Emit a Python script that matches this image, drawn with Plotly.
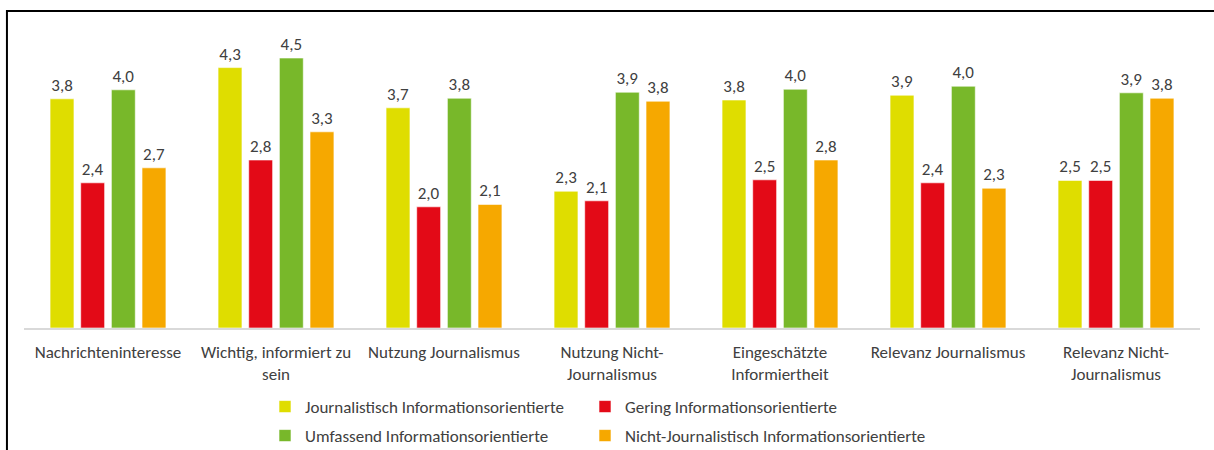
import plotly.graph_objects as go

categories = [
    "Nachrichteninteresse",
    "Wichtig, informiert zu<br>sein",
    "Nutzung Journalismus",
    "Nutzung Nicht-<br>Journalismus",
    "Eingeschätzte<br>Informiertheit",
    "Relevanz Journalismus",
    "Relevanz Nicht-<br>Journalismus",
]

journalistisch = [3.82, 4.34, 3.67, 2.28, 3.80, 3.88, 2.46]
gering = [2.42, 2.80, 2.02, 2.12, 2.47, 2.42, 2.46]
umfassend = [3.97, 4.50, 3.83, 3.93, 3.98, 4.03, 3.92]
nicht_journalistisch = [2.67, 3.27, 2.06, 3.78, 2.80, 2.33, 3.83]

series_names = [
    "Journalistisch Informationsorientierte",
    "Gering Informationsorientierte",
    "Umfassend Informationsorientierte",
    "Nicht-Journalistisch Informationsorientierte",
]
series_values = [journalistisch, gering, umfassend, nicht_journalistisch]
series_colors = ["#DFDD00", "#E30A17", "#78B82A", "#F6A800"]
legend_ids = ["legend", "legend2", "legend3", "legend4"]
# legend grid: (left x in px, row centre y in px)
legend_pos = [(265, 407), (585, 407), (265, 436), (585, 436)]

FONT = "Calibri, Carlito, Lato, sans-serif"
TXT = "#404040"
FS = 17
W, H = 1214, 450

fig = go.Figure()
for name, vals, color, leg in zip(series_names, series_values, series_colors, legend_ids):
    fig.add_trace(go.Bar(
        name=name,
        x=categories,
        y=vals,
        marker=dict(color=color, line=dict(color="rgba(255,255,255,0.6)", width=1)),
        texttemplate="%{y:.1f}",
        textposition="outside",
        textfont=dict(family=FONT, size=FS, color=TXT),
        cliponaxis=False,
        legend=leg,
    ))

legends = {}
for leg, (lx, ly) in zip(legend_ids, legend_pos):
    legends[leg] = dict(
        orientation="h",
        xref="container",
        yref="container",
        x=lx / W,
        y=1 - ly / H,
        xanchor="left",
        yanchor="middle",
        font=dict(family=FONT, size=FS, color=TXT),
        itemwidth=30,
        bgcolor="rgba(0,0,0,0)",
    )

fig.update_layout(
    width=W,
    height=H,
    margin=dict(l=24, r=14, t=28, b=122, autoexpand=False),
    paper_bgcolor="white",
    plot_bgcolor="white",
    separators=",.",
    barmode="group",
    bargap=0.27,
    bargroupgap=0.22,
    showlegend=True,
    xaxis=dict(
        showgrid=False,
        showline=True,
        linecolor="#D9D9D9",
        linewidth=1.5,
        ticks="",
        tickfont=dict(family=FONT, size=FS, color=TXT),
        tickangle=0,
        automargin=False,
        ticklabelstandoff=8,
    ),
    yaxis=dict(
        range=[0, 5],
        visible=False,
        showgrid=False,
        zeroline=False,
        automargin=False,
    ),
    font=dict(family=FONT, color=TXT),
    **legends,
)

fig.add_shape(
    type="rect",
    xref="paper", yref="paper",
    x0=-0.0145, x1=1.05, y0=-0.6, y1=1.057,
    line=dict(color="black", width=2),
    fillcolor="rgba(0,0,0,0)",
    layer="above",
)

fig.write_html(
    "out.html",
    config={"displayModeBar": False},
    post_script="document.body.style.margin='0';",
)
